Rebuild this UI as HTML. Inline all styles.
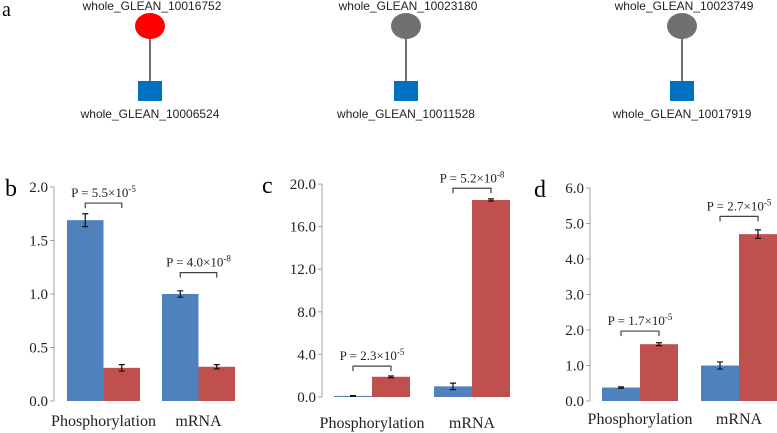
<!DOCTYPE html>
<html><head><meta charset="utf-8"><style>
body{margin:0;background:#fff}
svg{display:block}
</style></head><body>
<svg id="fig" width="777" height="433" viewBox="0 0 777 433" xmlns="http://www.w3.org/2000/svg">
<g id="net">
<text font-family="Liberation Serif, serif" x="2" y="16" font-size="20">a</text>
</g>
<g id="charts"></g>
</svg>
<script>
const SERIF="Liberation Serif, serif", SANS="Liberation Sans, sans-serif";
// Network nodes
const netCx = [150, 406, 682];
const netTop = ["whole_GLEAN_10016752","whole_GLEAN_10023180","whole_GLEAN_10023749"];
const netBot = ["whole_GLEAN_10006524","whole_GLEAN_10011528","whole_GLEAN_10017919"];
const netColor = ["#ff0000","#707070","#707070"];
const NS="http://www.w3.org/2000/svg";
function mk(tag, attrs, parent, txt){const e=document.createElementNS(NS,tag);for(const k in attrs)e.setAttribute(k,attrs[k]);if(txt!==undefined)e.textContent=txt;parent.appendChild(e);return e;}
const net=document.getElementById('net');
netCx.forEach((cx,i)=>{
  let l=mk('line',{x1:cx,y1:38,x2:cx,y2:82,stroke:'#707070','stroke-width':2},net);
  
  
  let c=mk('ellipse',{cx:cx,cy:26,rx:15,ry:13,fill:netColor[i]},net);
  
  
  let s=mk('rect',{x:cx-12,y:81,width:24,height:20,fill:'#0070c0'},net);
  
  
  let t1=mk('text',{x:cx+2,y:10,'font-size':12,'text-anchor':'middle','font-family':SANS,fill:'#222'},net,netTop[i]);
  
  
  let t2=mk('text',{x:cx,y:118,'font-size':12,'text-anchor':'middle','font-family':SANS,fill:'#222'},net,netBot[i]);
  
  
});

// Chart data
const categories = ["Phosphorylation","mRNA"];
const bBlue = [1.69, 1.0], bBlueErr=[0.06,0.03], bRed=[0.31,0.32], bRedErr=[0.03,0.02];
const bTicks = ["0.0","0.5","1.0","1.5","2.0"], bTickVals=[0,0.5,1,1.5,2];
const bP = [["5.5","-5"],["4.0","-8"]], bBracket=[1.85,1.2];
const cBlue = [0.1, 1.0], cBlueErr=[0.03,0.3], cRed=[1.9,18.5], cRedErr=[0.08,0.1];
const cTicks = ["0.0","4.0","8.0","12.0","16.0","20.0"], cTickVals=[0,4,8,12,16,20];
const cP = [["2.3","-5"],["5.2","-8"]], cBracket=[2.9,19.6];
const dBlue = [0.38, 1.0], dBlueErr=[0.02,0.1], dRed=[1.6,4.7], dRedErr=[0.04,0.12];
const dTicks = ["0.0","1.0","2.0","3.0","4.0","5.0","6.0"], dTickVals=[0,1,2,3,4,5,6];
const dP = [["1.7","-5"],["2.7","-5"]], dBracket=[1.97,5.2];

const panels=[
 {id:'b',ax:54,y0:401,yTop:187,max:2,bars0:[67,162],bw:36.5,lblY:426,letterX:5,blue:bBlue,be:bBlueErr,red:bRed,re:bRedErr,ticks:bTicks,tv:bTickVals,p:bP,br:bBracket},
 {id:'c',ax:322,y0:397,yTop:184,max:20,bars0:[334,434],bw:38,lblY:428,letterX:262,blue:cBlue,be:cBlueErr,red:cRed,re:cRedErr,ticks:cTicks,tv:cTickVals,p:cP,br:cBracket},
 {id:'d',ax:590,y0:401,yTop:188,max:6,bars0:[602,701],bw:38,lblY:424,letterX:534,blue:dBlue,be:dBlueErr,red:dRed,re:dRedErr,ticks:dTicks,tv:dTickVals,p:dP,br:dBracket}
];
const root=document.getElementById('charts');
panels.forEach(P=>{
  const g=mk('g',{},root);
  
  
  const y=v=>P.y0-(v/P.max)*(P.y0-P.yTop);
  let L=mk('text',{x:P.letterX,y:P.yTop+9,'font-size':24,'font-family':SERIF},g,P.id);
  
  
  let ax=mk('line',{x1:P.ax,y1:P.yTop,x2:P.ax,y2:P.y0,stroke:'#a0a0a0','stroke-width':1},g);
  
  
  P.tv.forEach((v,i)=>{
    let tk=mk('line',{x1:P.ax-4,y1:y(v),x2:P.ax,y2:y(v),stroke:'#a0a0a0'},g);
    
    
    let t=mk('text',{x:P.ax-6,y:y(v)+5,'font-size':15,'text-anchor':'end','font-family':SERIF,fill:'#222'},g,P.ticks[i]);
    
    
  });
  categories.forEach((cat,i)=>{
    const x0=P.bars0[i], w=P.bw;
    [[P.blue[i],P.be[i],'#4f81bd',x0,'blue'],[P.red[i],P.re[i],'#c0504d',x0+w,'red']].forEach(([v,e,col,x,nm])=>{
      let r=mk('rect',{x:x,y:y(v),width:w,height:P.y0-y(v),fill:col},g);
      
      
      const cx=x+w/2;
      let eb=mk('path',{d:`M${cx},${y(v+e)}V${y(v-e)}M${cx-3},${y(v+e)}H${cx+3}M${cx-3},${y(v-e)}H${cx+3}`,stroke:'#111','stroke-width':1.2,fill:'none'},g);
      
      
    });
    const by=y(P.br[i]), bx1=x0+w/2, bx2=x0+w*1.5;
    let br=mk('path',{d:`M${bx1},${by+5}V${by}H${bx2}V${by+5}`,stroke:'#444','stroke-width':1.2,fill:'none'},g);
    
    
    let pt=mk('text',{x:x0+w,y:by-6,'font-size':13,'text-anchor':'middle','font-family':SERIF,fill:'#222'},g);
    
    
    mk('tspan',{},pt,'P = '+P.p[i][0]+'\u00d710');
    mk('tspan',{dy:-5,'font-size':9},pt,P.p[i][1]);
    let cl=mk('text',{x:x0+w,y:P.lblY,'font-size':16,'text-anchor':'middle','font-family':SERIF,fill:'#222'},g,cat);
    
    
  });
});
</script>
</body></html>
